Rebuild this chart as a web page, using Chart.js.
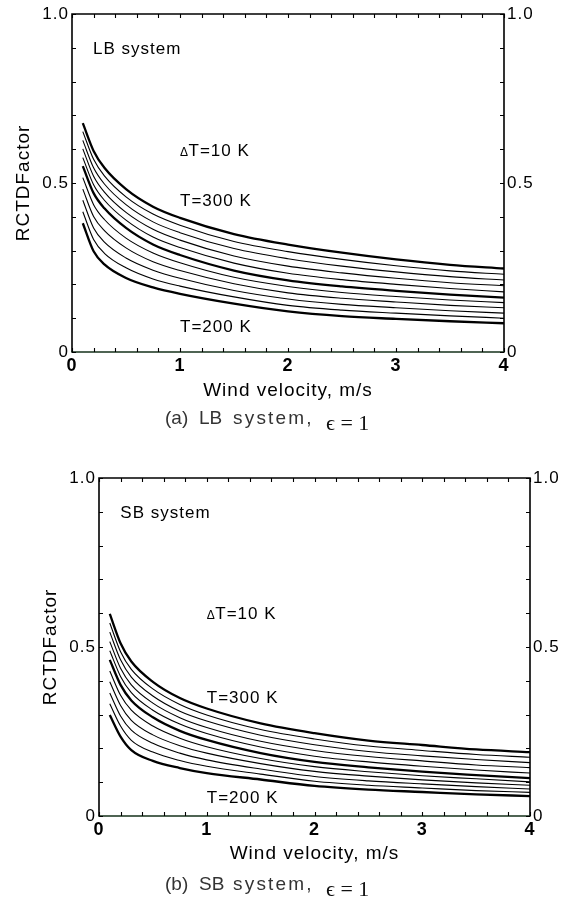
<!DOCTYPE html>
<html><head><meta charset="utf-8">
<script src="https://cdn.jsdelivr.net/npm/chart.js@4.4.0/dist/chart.umd.min.js"></script>
<style>
html,body{margin:0;padding:0;background:#fff;width:568px;height:904px;overflow:hidden;position:relative}
#c1{position:absolute;left:0;top:0}
#c2{position:absolute;left:0;top:440px}
.cap{position:absolute;font-family:"Liberation Sans",Arial,sans-serif;font-size:19px;color:#333;white-space:pre;line-height:22px}
.cap.w{letter-spacing:2.2px}
.cap.m{font-family:"Liberation Serif","DejaVu Serif",serif;font-size:22px;color:#111;letter-spacing:0}
</style></head><body>
<canvas id="c1" width="568" height="440"></canvas>
<canvas id="c2" width="568" height="464"></canvas>
<div class="cap" style="left:165px;top:407px">(a)</div>
<div class="cap" style="left:199px;top:407px">LB</div>
<div class="cap w" style="left:233px;top:407px">system,</div>
<div class="cap m" style="left:326px;top:412px">ϵ = 1</div>
<div class="cap" style="left:165px;top:873px">(b)</div>
<div class="cap" style="left:199px;top:873px">SB</div>
<div class="cap w" style="left:233px;top:873px">system,</div>
<div class="cap m" style="left:326px;top:878px">ϵ = 1</div>
<script>
// ---- data ----
const velocity = [0.1, 0.2, 0.3, 0.5, 0.75, 1.0, 1.5, 2.0, 2.5, 3.0, 3.5, 4.0];
const temps = [300, 290, 280, 270, 260, 250, 240, 230, 220, 210, 200];
const boldTemps = [300, 250, 200];
const yTickLabels = ['0', '0.5', '1.0'];
const xTickLabels = ['0', '1', '2', '3', '4'];

// LB system
const lbT300 = [0.677,0.595,0.545,0.482,0.430,0.397,0.349,0.318,0.294,0.274,0.258,0.247];
const lbT290 = [0.652,0.570,0.521,0.459,0.408,0.375,0.327,0.297,0.274,0.255,0.240,0.230];
const lbT280 = [0.626,0.545,0.497,0.436,0.385,0.353,0.306,0.276,0.254,0.237,0.223,0.213];
const lbT270 = [0.601,0.520,0.473,0.413,0.363,0.331,0.284,0.254,0.234,0.218,0.205,0.196];
const lbT260 = [0.575,0.495,0.449,0.390,0.340,0.309,0.263,0.233,0.214,0.200,0.188,0.178];
const lbT250 = [0.550,0.470,0.425,0.367,0.318,0.287,0.241,0.212,0.194,0.181,0.170,0.161];
const lbT240 = [0.516,0.436,0.392,0.337,0.293,0.264,0.221,0.194,0.176,0.164,0.154,0.146];
const lbT230 = [0.482,0.401,0.359,0.308,0.267,0.241,0.202,0.175,0.159,0.148,0.138,0.131];
const lbT220 = [0.449,0.367,0.325,0.278,0.242,0.218,0.182,0.157,0.141,0.131,0.122,0.115];
const lbT210 = [0.415,0.333,0.292,0.249,0.216,0.195,0.163,0.138,0.124,0.115,0.107,0.100];
const lbT200 = [0.381,0.298,0.259,0.219,0.191,0.172,0.143,0.120,0.106,0.098,0.091,0.085];

// SB system
const sbT300 = [0.598,0.511,0.457,0.397,0.349,0.318,0.274,0.245,0.223,0.210,0.197,0.189];
const sbT290 = [0.571,0.486,0.434,0.376,0.330,0.299,0.256,0.228,0.207,0.194,0.182,0.174];
const sbT280 = [0.544,0.462,0.411,0.355,0.310,0.281,0.239,0.211,0.191,0.178,0.167,0.158];
const sbT270 = [0.516,0.437,0.388,0.334,0.291,0.262,0.221,0.194,0.176,0.163,0.151,0.143];
const sbT260 = [0.489,0.413,0.365,0.313,0.272,0.244,0.204,0.177,0.160,0.147,0.136,0.127];
const sbT250 = [0.462,0.388,0.342,0.292,0.252,0.225,0.186,0.160,0.144,0.131,0.121,0.112];
const sbT240 = [0.429,0.357,0.313,0.266,0.230,0.205,0.170,0.146,0.131,0.119,0.110,0.101];
const sbT230 = [0.397,0.327,0.283,0.240,0.208,0.186,0.155,0.132,0.118,0.107,0.098,0.091];
const sbT220 = [0.364,0.296,0.254,0.215,0.186,0.166,0.139,0.117,0.104,0.095,0.087,0.080];
const sbT210 = [0.332,0.266,0.224,0.189,0.164,0.147,0.124,0.103,0.091,0.083,0.075,0.070];
const sbT200 = [0.299,0.235,0.195,0.163,0.142,0.127,0.108,0.089,0.078,0.071,0.064,0.059];

const lbSeries = [lbT300, lbT290, lbT280, lbT270, lbT260, lbT250, lbT240, lbT230, lbT220, lbT210, lbT200];
const sbSeries = [sbT300, sbT290, sbT280, sbT270, sbT260, sbT250, sbT240, sbT230, sbT220, sbT210, sbT200];

// annotation texts with positions in data units
const lbNotes = [
  {text: 'LB system', x: 0.194, y: 0.882},
  {text: 'T=10 K', delta: true, x: 1.0, y: 0.580},
  {text: 'T=300 K', x: 1.0, y: 0.432},
  {text: 'T=200 K', x: 1.0, y: 0.059}
];
const sbNotes = [
  {text: 'SB system', x: 0.198, y: 0.882},
  {text: 'T=10 K', delta: true, x: 1.0, y: 0.583},
  {text: 'T=300 K', x: 1.0, y: 0.334},
  {text: 'T=200 K', x: 1.0, y: 0.038}
];

// ---- drawing ----
const FONT = '"Liberation Sans", Arial, sans-serif';
const near = (a, b) => Math.abs(a - b) < 1e-6;

const framePlugin = {
  id: 'frame',
  beforeDraw(chart) { chart.ctx.letterSpacing = '1px'; },
  afterDatasetsDraw(chart, args, opts) {
    const ctx = chart.ctx, xs = chart.scales.x, ys = chart.scales.y;
    ctx.save();
    ctx.fillStyle = '#000';
    ctx.textAlign = 'left';
    ctx.textBaseline = 'alphabetic';
    ctx.letterSpacing = '1px';
    (opts.notes || []).forEach(n => {
      let px = xs.getPixelForValue(n.x);
      const py = ys.getPixelForValue(n.y);
      if (n.delta) {
        ctx.font = '12px ' + FONT;
        ctx.letterSpacing = '0px';
        ctx.fillText('\u0394', px, py);
        px += ctx.measureText('\u0394').width + 0.5;
        ctx.letterSpacing = '1px';
      }
      ctx.font = '17px ' + FONT;
      ctx.fillText(n.text, px, py);
    });
    ctx.restore();
  },
  afterDraw(chart) {
    const ctx = chart.ctx, xs = chart.scales.x, ys = chart.scales.y;
    const {left, right, top, bottom} = chart.chartArea;
    ctx.save();
    ctx.lineWidth = 1.6;
    ctx.strokeStyle = '#000';
    ctx.beginPath();
    ctx.moveTo(left, bottom); ctx.lineTo(left, top); ctx.lineTo(right, top); ctx.lineTo(right, bottom);
    ctx.stroke();
    ctx.strokeStyle = '#15301a';
    ctx.beginPath(); ctx.moveTo(left - 0.8, bottom); ctx.lineTo(right + 0.8, bottom); ctx.stroke();
    ctx.lineWidth = 1.1;
    ctx.strokeStyle = '#000';
    ctx.beginPath();
    xs.ticks.forEach(t => {
      const p = Math.round(xs.getPixelForValue(t.value)) + 0.5;
      ctx.moveTo(p, top); ctx.lineTo(p, top + 4);
      ctx.moveTo(p, bottom); ctx.lineTo(p, bottom - 4);
    });
    ys.ticks.forEach(t => {
      const p = Math.round(ys.getPixelForValue(t.value)) + 0.5;
      ctx.moveTo(left, p); ctx.lineTo(left + 4, p);
      ctx.moveTo(right, p); ctx.lineTo(right - 4, p);
    });
    ctx.stroke();
    ctx.restore();
  }
};

function yLabel(v) {
  if (near(v, 0)) return yTickLabels[0];
  if (near(v, 0.5)) return yTickLabels[1];
  if (near(v, 1)) return yTickLabels[2];
  return '';
}
function xLabel(v) {
  const r = Math.round(v);
  return near(v, r) ? xTickLabels[r] : '';
}

function buildChart(id, series, notes, cfg) {
  const datasets = series.map((s, i) => ({
    label: 'T=' + temps[i] + ' K',
    data: velocity.map((v, j) => ({x: v, y: s[j]})),
    borderColor: '#000',
    borderWidth: boldTemps.includes(temps[i]) ? 2.3 : 1.1,
    pointRadius: 0,
    cubicInterpolationMode: 'monotone',
    fill: false
  }));
  const yTicks = {stepSize: 0.1, autoSkip: false, padding: 3, color: '#000',
                  font: {family: FONT, size: 17}, callback: yLabel};
  return new Chart(document.getElementById(id), {
    type: 'line',
    data: {datasets},
    options: {
      responsive: false, animation: false, devicePixelRatio: 1,
      layout: {padding: {top: cfg.padTop, left: 0, right: 0, bottom: 0}},
      plugins: {legend: {display: false}, tooltip: {enabled: false}, frame: {notes}},
      scales: {
        x: {
          type: 'linear', position: 'bottom', min: 0, max: 4,
          ticks: {stepSize: 0.2, autoSkip: false, maxRotation: 0, padding: 3, color: '#000',
                  font: {family: FONT, size: 18, weight: 'bold'}, callback: xLabel},
          grid: {display: false, drawTicks: false}, border: {display: false},
          title: {display: true, text: 'Wind velocity, m/s', color: '#000',
                  font: {family: FONT, size: 19}, padding: {top: 0, bottom: cfg.xTitlePad}},
          afterFit: s => { s.height = cfg.xH; }
        },
        y: {
          type: 'linear', position: 'left', min: 0, max: 1,
          ticks: yTicks,
          grid: {display: false, drawTicks: false}, border: {display: false},
          title: {display: true, text: 'RCTDFactor', color: '#000',
                  font: {family: FONT, size: 19}, padding: {top: cfg.yTitlePad, bottom: 0}},
          afterFit: s => { s.width = cfg.yW; }
        },
        y2: {
          type: 'linear', position: 'right', min: 0, max: 1,
          ticks: Object.assign({}, yTicks),
          grid: {display: false, drawTicks: false}, border: {display: false},
          afterFit: s => { s.width = cfg.y2W; }
        }
      }
    },
    plugins: [framePlugin]
  });
}

buildChart('c1', lbSeries, lbNotes, {padTop: 14, xH: 88, yW: 72, y2W: 64, xTitlePad: 38, yTitlePad: 12});
buildChart('c2', sbSeries, sbNotes, {padTop: 38, xH: 88, yW: 99, y2W: 38, xTitlePad: 39, yTitlePad: 39});
</script>
</body></html>
